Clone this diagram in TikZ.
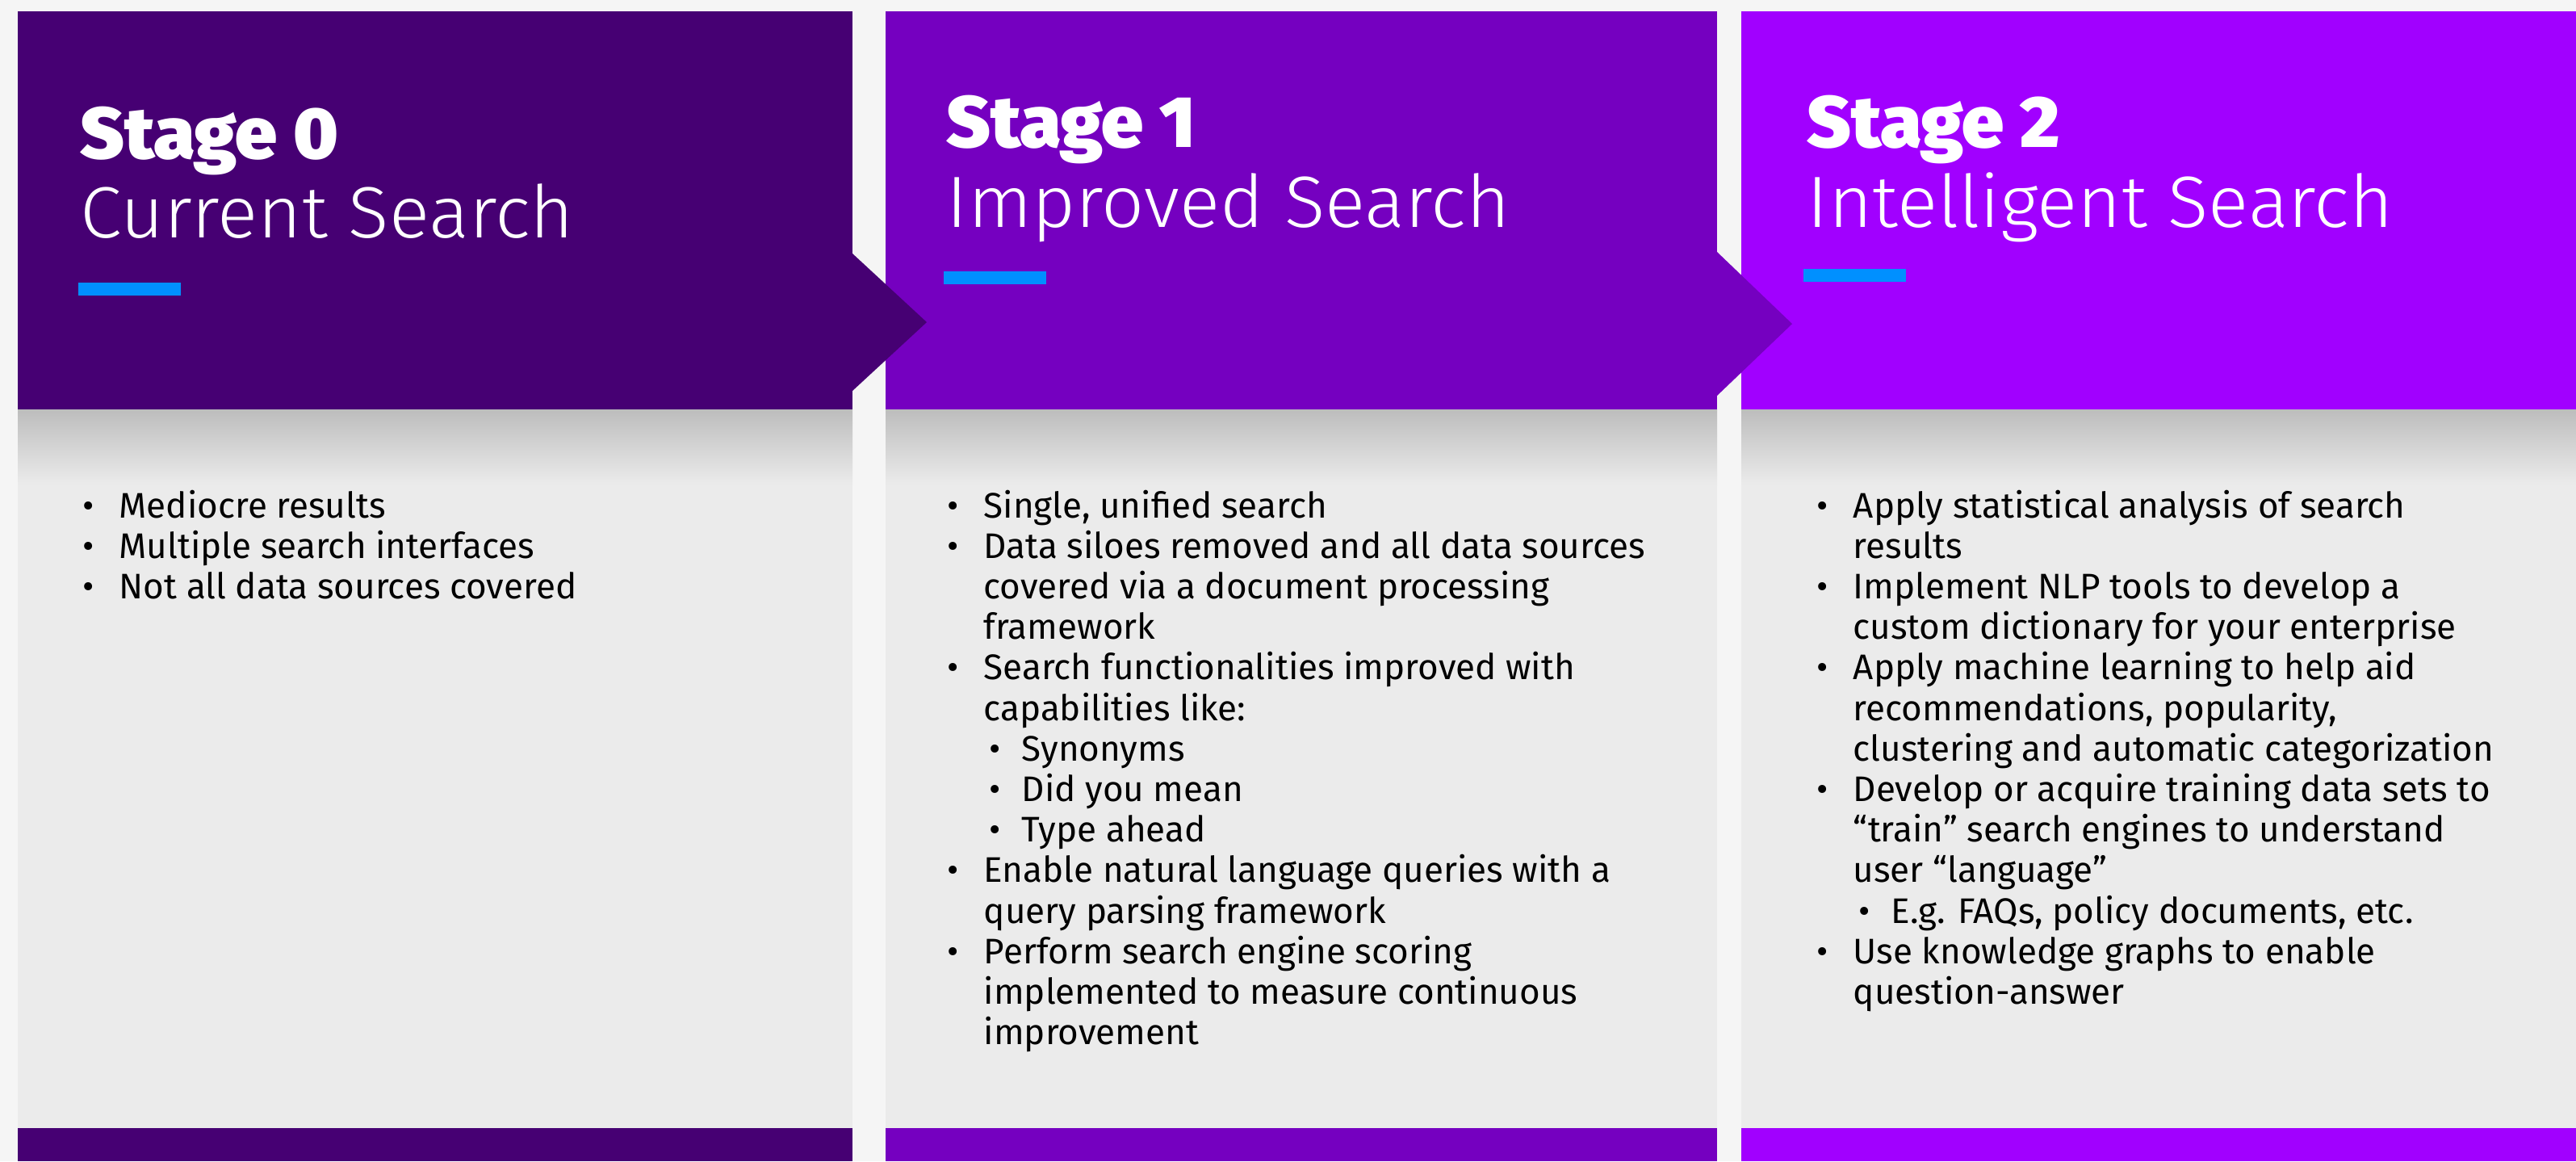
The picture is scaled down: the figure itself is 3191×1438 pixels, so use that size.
\documentclass[tikz,border=0pt]{standalone}
\usepackage{fontspec}
\setmainfont{Fira Sans}
\newfontfamily\titlefont{Fira Sans Black}[FakeStretch=1.035]
\newfontfamily\subfont{Fira Sans Light}[FakeStretch=1.035]
\definecolor{bgc}{HTML}{F5F5F5}
\definecolor{pA}{HTML}{460073}
\definecolor{pB}{HTML}{7500C0}
\definecolor{pC}{HTML}{A100FF}
\definecolor{bodyc}{HTML}{EBEBEB}
\definecolor{shadc}{HTML}{BDBDBD}
\definecolor{barc}{HTML}{0090FF}
\newcommand\bI{\makebox[11.25pt][l]{•}}
\newcommand\cI{\hspace*{11.25pt}}
\newcommand\bII{\hspace*{13pt}\makebox[10pt][l]{•}}
\tikzset{
  x=0.25pt, y=-0.25pt,
  stagetitle/.style={anchor=base west, inner sep=0pt, text=white, font=\titlefont\fontsize{22.5}{25}\selectfont},
  stagesub/.style={anchor=base west, inner sep=0pt, text=white, font=\subfont\fontsize{22.5}{25}\selectfont},
  bodytext/.style={anchor=base west, inner sep=0pt, align=left, text=black, font=\fontsize{11}{12.55}\selectfont},
  bar/.style={fill=barc}
}
\begin{document}
\begin{tikzpicture}
\useasboundingbox (0,0) rectangle (3191,1438);
\fill[bgc] (0,0) rectangle (3191,1438);
% panel 0
\fill[pA] (22,14) rectangle (1056,507);
\fill[bodyc] (22,507) rectangle (1056,1397);
\shade[top color=shadc, bottom color=bodyc] (22,507) rectangle (1056,600);
\fill[pA] (22,1397) rectangle (1056,1438);
% panel 1
\fill[pB] (1097,14) rectangle (2127,507);
\fill[bodyc] (1097,507) rectangle (2127,1397);
\shade[top color=shadc, bottom color=bodyc] (1097,507) rectangle (2127,600);
\fill[pB] (1097,1397) rectangle (2127,1438);
% panel 2
\fill[pC] (2157,14) rectangle (3191,507);
\fill[bodyc] (2157,507) rectangle (3191,1397);
\shade[top color=shadc, bottom color=bodyc] (2157,507) rectangle (3191,600);
\fill[pC] (2157,1397) rectangle (3191,1438);
% arrow tips
\fill[pA] (1050,314) -- (1056,314) -- (1148,399) -- (1056,484) -- (1050,484) -- cycle;
\fill[pB] (2120,312) -- (2127,312) -- (2220,401) -- (2127,490) -- (2120,490) -- cycle;
% bars
\fill[bar] (97,350) rectangle (224,366);
\fill[bar] (1169,336) rectangle (1296,352);
\fill[bar] (2234,333) rectangle (2361,349);
% titles
\node[stagetitle] (s0) at (99,196) {Stage 0};
\node[stagesub] (n0) at (99,294) {Current Search};
\node[stagetitle] (s1) at (1172,182) {Stage 1};
\node[stagesub] (n1) at (1172,281) {Improved Search};
\node[stagetitle] (s2) at (2238,182) {Stage 2};
\node[stagesub] (n2) at (2238,281) {Intelligent Search};
% bodies (anchored at the baseline of the last line)
\node[bodytext] (t0) at (102,741.4) {\bI Mediocre results\\ \bI Multiple search interfaces\\ \bI Not all data sources covered};
\node[bodytext] (t1) at (1173,1293.6) {\bI Single, unified search\\
\bI Data siloes removed and all data sources\\
\cI covered via a document processing\\
\cI framework\\
\bI Search functionalities improved with\\
\cI capabilities like:\\
\bII Synonyms\\
\bII Did you mean\\
\bII Type ahead\\
\bI Enable natural language queries with a\\
\cI query parsing framework\\
\bI Perform search engine scoring\\
\cI implemented to measure continuous\\
\cI improvement};
\node[bodytext] (t2) at (2250,1243.4) {\bI Apply statistical analysis of search\\
\cI results\\
\bI Implement NLP tools to develop a\\
\cI custom dictionary for your enterprise\\
\bI Apply machine learning to help aid\\
\cI recommendations, popularity,\\
\cI clustering and automatic categorization\\
\bI Develop or acquire training data sets to\\
\cI “train” search engines to understand\\
\cI user “language”\\
\bII E.g. FAQs, policy documents, etc.\\
\bI Use knowledge graphs to enable\\
\cI question-answer};
\end{tikzpicture}
\end{document}
